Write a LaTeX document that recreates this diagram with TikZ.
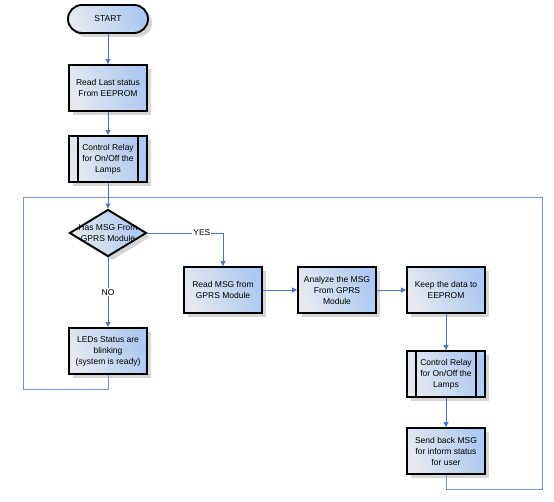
\documentclass[tikz,border=0pt]{standalone}
\usepackage{fontspec}
\setmainfont{Liberation Sans}
\usetikzlibrary{positioning, arrows.meta, shapes.geometric, shadows}
\definecolor{fBlue}{HTML}{ABC9F2}
\definecolor{fLight}{HTML}{E6E8EE}
\definecolor{lBlue}{HTML}{4A74C6}
\definecolor{loopBlue}{HTML}{7696D4}
\definecolor{sGray}{HTML}{D6D6D6}

\begin{document}
\begin{tikzpicture}[x=1pt, y=-1pt,
  procbox/.style={draw=black, line width=1.9pt, minimum width=78pt,
                  minimum height=46pt, align=center, inner sep=1pt,
                  font=\fontsize{8.5}{11}\selectfont,
                  left color=fLight, right color=fBlue, shading angle=110,
                  drop shadow={shadow xshift=4pt, shadow yshift=-4pt,
                               fill=sGray, opacity=1}},
  relaybox/.style={procbox, path picture={
      \draw[line width=1.9pt] ([xshift=9pt]path picture bounding box.north west)
        -- ([xshift=9pt]path picture bounding box.south west);
      \draw[line width=1.9pt] ([xshift=-9pt]path picture bounding box.north east)
        -- ([xshift=-9pt]path picture bounding box.south east);}},
  startbox/.style={procbox, rounded corners=14pt, minimum width=80pt,
                   minimum height=28pt},
  decbox/.style={diamond, draw=black, line width=1.9pt, inner sep=0pt,
                 minimum width=77pt, minimum height=47pt,
                 left color=fLight, right color=fBlue, shading angle=110,
                 drop shadow={shadow xshift=4pt, shadow yshift=-4pt,
                              fill=sGray, opacity=1}},
  arr/.style={-{Triangle[length=5pt, width=5pt]}, draw=lBlue, line width=1pt},
  loopline/.style={draw=loopBlue, line width=1pt},
  lab/.style={fill=white, inner sep=1pt, font=\fontsize{8.5}{11}\selectfont},
]
  \useasboundingbox (0,0) rectangle (554,501);

  % left column
  \node[startbox] (start) at (108,19) {START};
  \node[procbox] (readLast) at (108,88) {Read Last status\\From EEPROM};
  \node[relaybox] (relayA) at (108,159) {Control Relay\\for On/Off the\\Lamps};
  \node[decbox] (has) at (108,233) {};
  \node[align=center, font=\fontsize{8.5}{11}\selectfont] (hasText) at (108,233)
    {Has MSG From\\GPRS Module};
  \node[procbox] (leds) at (108,351) {LEDs Status are\\blinking\\(system is ready)};

  % right part
  \node[procbox] (readMsg) at (223,290) {Read MSG from\\GPRS Module};
  \node[procbox] (analyze) at (337,290) {Analyze the MSG\\From GPRS\\Module};
  \node[procbox] (keep) at (446,290) {Keep the data to\\EEPROM};
  \node[relaybox] (relayB) at (446,374) {Control Relay\\for On/Off the\\Lamps};
  \node[procbox] (sendBack) at (446,451) {Send back MSG\\for inform status\\for user};

  % loop corners
  \coordinate (topL) at (23,197);
  \coordinate (topR) at (542,197);
  \coordinate (botL) at (23,389);
  \coordinate (botR) at (542,489);

  \draw[loopline] (leds.south) |- (botL) -- (topL) -- (topR) -- (botR) -| (sendBack.south);

  % connectors
  \draw[arr] (start) -- (readLast);
  \draw[arr] (readLast) -- (relayA);
  \draw[arr] (relayA) -- (has);
  \draw[arr] (has.east) -| node[lab, pos=0.36] {YES} (readMsg.north);
  \draw[arr] (has.south) -- node[lab] {NO} (leds.north);
  \draw[arr] (readMsg) -- (analyze);
  \draw[arr] (analyze) -- (keep);
  \draw[arr] (keep) -- (relayB);
  \draw[arr] (relayB) -- (sendBack);
\end{tikzpicture}
\end{document}
